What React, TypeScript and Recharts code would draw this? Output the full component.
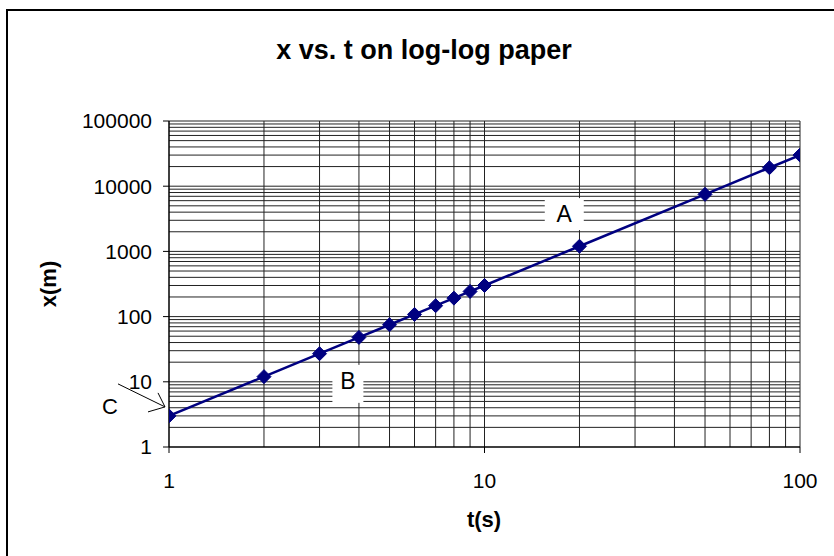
import React from "react";
import { LineChart, Line, XAxis, YAxis, ReferenceLine, ReferenceDot } from "recharts";

const tValues = [1, 2, 3, 4, 5, 6, 7, 8, 9, 10, 20, 50, 80, 100];
const xValues = [3, 12, 27, 48, 75, 108, 147, 192, 243, 300, 1200, 7500, 19200, 30000];
const tTicks = [1, 10, 100];
const xTicks = [1, 10, 100, 1000, 10000, 100000];
const tGrid = [2, 3, 4, 5, 6, 7, 8, 9, 10, 20, 30, 40, 50, 60, 70, 80, 90, 100];
const xGrid = [
  2, 3, 4, 5, 6, 7, 8, 9, 10,
  20, 30, 40, 50, 60, 70, 80, 90, 100,
  200, 300, 400, 500, 600, 700, 800, 900, 1000,
  2000, 3000, 4000, 5000, 6000, 7000, 8000, 9000, 10000,
  20000, 30000, 40000, 50000, 60000, 70000, 80000, 90000, 100000,
];
const annotations = [
  { label: "A", t: 17.9, x: 3730 },
  { label: "B", t: 3.69, x: 9.3 },
];

const data = tValues.map((t, i) => ({ t, x: xValues[i] }));

const FONT = "Arial, 'Liberation Sans', sans-serif";
const NAVY = "#000080";
const GRID = "#222";

const Diamond = (props: any) => {
  const { cx, cy } = props;
  if (cx == null || cy == null) return null;
  const r = 7;
  return (
    <path
      d={`M${cx},${cy - r} L${cx + r},${cy} L${cx},${cy + r} L${cx - r},${cy} Z`}
      fill={NAVY}
      stroke={NAVY}
    />
  );
};

const BoxLabel = (label: string, w: number, h: number, dy: number) => (props: any) => {
  const { cx, cy } = props;
  return (
    <g>
      <rect x={cx - w / 2} y={cy - h / 2} width={w} height={h} fill="#fff" />
      <text
        x={cx}
        y={cy + dy}
        textAnchor="middle"
        dominantBaseline="central"
        fontFamily={FONT}
        fontSize={23}
        fill="#000"
      >
        {label}
      </text>
    </g>
  );
};

const CArrow = (props: any) => {
  const { cx, cy } = props;
  const tx = cx - 4;
  const ty = cy - 9;
  return (
    <g>
      <line x1={cx - 51} y1={cy - 32} x2={tx} y2={ty} stroke="#000" strokeWidth={1} />
      <line x1={cx - 11} y1={cy - 23} x2={tx} y2={ty} stroke="#000" strokeWidth={1} />
      <line x1={cx - 21} y1={cy - 4} x2={tx} y2={ty} stroke="#000" strokeWidth={1} />
      <text
        x={cx - 59}
        y={cy - 9}
        textAnchor="middle"
        dominantBaseline="central"
        fontFamily={FONT}
        fontSize={22}
        fill="#000"
      >
        C
      </text>
    </g>
  );
};

export default function App() {
  return (
    <div style={{ position: "absolute", left: 0, top: 0, width: 834, height: 556, background: "#fff", overflow: "hidden" }}>
      <div
        style={{
          position: "absolute",
          left: 6,
          top: 9,
          width: 900,
          height: 700,
          borderLeft: "2px solid #000",
          borderTop: "2px solid #000",
        }}
      />
      <LineChart
        width={834}
        height={556}
        data={data}
        margin={{ top: 121, right: 34, bottom: 19, left: 109 }}
        style={{ position: "absolute", left: 0, top: 0 }}
      >
        <XAxis
          dataKey="t"
          type="number"
          scale="log"
          domain={[1, 100]}
          ticks={tTicks}
          allowDataOverflow
          height={90}
          tickSize={6}
          tickMargin={20}
          tick={{ fontSize: 21, fill: "#000", fontFamily: FONT }}
          tickLine={{ stroke: "#000" }}
          axisLine={{ stroke: "#000", strokeWidth: 1.5 }}
        />
        <YAxis
          dataKey="x"
          type="number"
          scale="log"
          domain={[1, 100000]}
          ticks={xTicks}
          allowDataOverflow
          width={60}
          tickSize={6}
          tickMargin={11}
          tick={{ fontSize: 21, fill: "#000", fontFamily: FONT }}
          tickLine={{ stroke: "#000" }}
          axisLine={{ stroke: "#000", strokeWidth: 1.5 }}
        />
        {tGrid.map((v) => (
          <ReferenceLine key={"vx" + v} x={v} stroke={GRID} strokeWidth={1} />
        ))}
        {xGrid.map((v) => (
          <ReferenceLine key={"hy" + v} y={v} stroke={GRID} strokeWidth={1} />
        ))}
        <ReferenceDot
          x={annotations[0].t}
          y={annotations[0].x}
          shape={BoxLabel(annotations[0].label, 39, 32, 0)}
        />
        <ReferenceDot
          x={annotations[1].t}
          y={annotations[1].x}
          shape={BoxLabel(annotations[1].label, 31, 38, -3)}
        />
        <ReferenceDot x={tValues[0]} y={xValues[0]} ifOverflow="visible" shape={CArrow} />
        <Line
          dataKey="x"
          stroke={NAVY}
          strokeWidth={2.5}
          dot={<Diamond />}
          isAnimationActive={false}
        />
      </LineChart>
      <svg width={834} height={556} style={{ position: "absolute", left: 0, top: 0, pointerEvents: "none" }}>
        <text x={424} y={50} textAnchor="middle" dominantBaseline="central" fontFamily={FONT} fontWeight="bold" fontSize={27} fill="#000">
          x vs. t on log-log paper
        </text>
        <text x={484} y={519} textAnchor="middle" dominantBaseline="central" fontFamily={FONT} fontWeight="bold" fontSize={22} fill="#000">
          t(s)
        </text>
        <text
          x={48}
          y={284}
          textAnchor="middle"
          dominantBaseline="central"
          fontFamily={FONT}
          fontWeight="bold"
          fontSize={22}
          fill="#000"
          transform="rotate(-90 48 284)"
        >
          x(m)
        </text>
      </svg>
    </div>
  );
}
